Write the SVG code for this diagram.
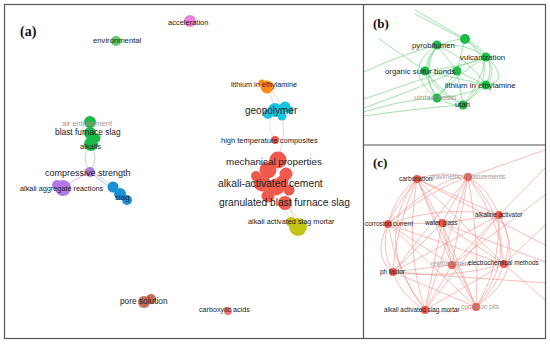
<svg xmlns="http://www.w3.org/2000/svg" width="550" height="344" viewBox="0 0 550 344">
<style>
text{font-family:"Liberation Sans",Arial,sans-serif;fill:#222}
.g{fill:#9a9a9a}
.pl{font-family:"Liberation Serif","Times New Roman",serif;font-weight:bold;fill:#111}
.lb{fill:none;stroke:#5fd070;stroke-width:0.8;stroke-opacity:0.75}
.lc{fill:none;stroke:#f08a80;stroke-width:0.8;stroke-opacity:0.7}
.la{fill:none;stroke-width:1;stroke-opacity:0.6}
.frame{fill:none;stroke:#555;stroke-width:1.2}
</style>
<defs>
<clipPath id="cb"><rect x="364" y="5" width="181" height="140"/></clipPath>
<clipPath id="cc"><rect x="364" y="145" width="181" height="194"/></clipPath>
</defs>
<rect width="550" height="344" fill="#fff"/>

<!-- connectors -->
<g id="connectors">
 <g id="conn-a">
  <path class="la" stroke="#9ab8a0" d="M90,145 Q80,158 90,172"/>
  <path class="la" stroke="#9ab8a0" d="M90,145 Q100,158 90,172"/>
  <path class="la" stroke="#b8c8b8" d="M90,122 Q86,134 90,145"/>
  <path class="la" stroke="#c090e8" stroke-width="3.5" d="M90,172 Q76,178 63,188"/>
  <path class="la" stroke="#a090e0" stroke-width="3" d="M90,172 Q102,182 114,190"/>
  <path class="la" stroke="#a0b0e8" d="M90,172 Q104,177 120,195"/>
  <path class="la" stroke="#c0c8d8" d="M267,87 Q272,98 275,110"/>
  <path class="la" stroke="#d8c8b0" d="M270,87 Q276,96 282,108"/>
  <path class="la" stroke="#c8d0d8" d="M275,110 Q264,125 275,140"/>
  <path class="la" stroke="#f0b0b0" d="M280,112 Q288,128 278,160"/>
  <path class="la" stroke="#f0b0a0" d="M280,195 Q292,212 298,226"/>
  <path class="la" stroke="#f0c0a0" d="M285,203 Q296,214 300,224"/>
  <path class="la" stroke="#f0c8a0" d="M272,198 Q290,215 294,226"/>
 </g>
 <g id="conn-b" clip-path="url(#cb)">
  <path class="lb" d="M415,10 L465,39"/>
  <path class="lb" d="M415,14 L465,40"/>
  <path class="lb" d="M378,38 L425,71"/>
  <path class="lb" d="M364,72 Q400,55 437,45"/>
  <path class="lb" d="M364,99 Q420,80 486,57"/>
  <path class="lb" d="M364,112 Q400,100 437,98"/>
  <path class="lb" d="M364,116 Q420,108 463,105"/>
  <path class="lb" d="M364,108 Q410,92 457,71"/>
  <path class="lb" d="M437,45 Q420,75 437,98"/>
  <path class="lb" d="M437,45 Q410,80 463,105"/>
  <path class="lb" d="M465,39 Q505,70 463,105"/>
  <path class="lb" d="M465,39 Q430,40 425,71"/>
  <path class="lb" d="M465,39 Q500,55 486,85"/>
  <path class="lb" d="M437,45 Q465,42 486,57"/>
  <path class="lb" d="M437,45 L457,71"/>
  <path class="lb" d="M437,45 Q470,60 486,85"/>
  <path class="lb" d="M486,57 Q470,65 425,71"/>
  <path class="lb" d="M486,57 Q498,70 486,85"/>
  <path class="lb" d="M486,57 Q480,85 463,105"/>
  <path class="lb" d="M486,57 Q455,75 437,98"/>
  <path class="lb" d="M425,71 L486,85"/>
  <path class="lb" d="M425,71 Q430,88 437,98"/>
  <path class="lb" d="M425,71 Q445,95 463,105"/>
  <path class="lb" d="M457,71 L437,98"/>
  <path class="lb" d="M457,71 L463,105"/>
  <path class="lb" d="M457,71 L486,85"/>
  <path class="lb" d="M486,85 Q470,95 437,98"/>
  <path class="lb" d="M486,85 L463,105"/>
  <path class="lb" d="M437,98 Q450,106 463,105"/>
  <path class="lb" d="M465,39 L457,71"/>
  <path class="lb" d="M437,45 Q400,70 437,98"/>
  <path class="lb" d="M465,39 Q520,80 486,85"/>
 </g>
 <g id="conn-c" clip-path="url(#cc)">
  <path class="lc" d="M417,179 Q442,170 468,177"/>
  <path class="lc" d="M417,179 Q395,195 388,224"/>
  <path class="lc" d="M417,179 L442,223"/>
  <path class="lc" d="M417,179 L499,215"/>
  <path class="lc" d="M417,179 L452,265"/>
  <path class="lc" d="M417,179 L504,264"/>
  <path class="lc" d="M417,179 Q395,230 393,272"/>
  <path class="lc" d="M417,179 Q405,250 425,310"/>
  <path class="lc" d="M417,179 L476,307"/>
  <path class="lc" d="M417,179 L545,245"/>
  <path class="lc" d="M468,177 Q430,190 388,224"/>
  <path class="lc" d="M468,177 L442,223"/>
  <path class="lc" d="M468,177 Q490,190 499,215"/>
  <path class="lc" d="M468,177 L452,265"/>
  <path class="lc" d="M468,177 Q500,220 504,264"/>
  <path class="lc" d="M468,177 L393,272"/>
  <path class="lc" d="M468,177 L425,310"/>
  <path class="lc" d="M468,177 Q480,240 476,307"/>
  <path class="lc" d="M468,177 L545,150"/>
  <path class="lc" d="M388,224 L442,223"/>
  <path class="lc" d="M388,224 Q440,205 499,215"/>
  <path class="lc" d="M388,224 L452,265"/>
  <path class="lc" d="M388,224 L504,264"/>
  <path class="lc" d="M388,224 Q380,250 393,272"/>
  <path class="lc" d="M388,224 Q395,270 425,310"/>
  <path class="lc" d="M388,224 L476,307"/>
  <path class="lc" d="M442,223 L499,215"/>
  <path class="lc" d="M442,223 L452,265"/>
  <path class="lc" d="M442,223 L504,264"/>
  <path class="lc" d="M442,223 L393,272"/>
  <path class="lc" d="M442,223 L425,310"/>
  <path class="lc" d="M442,223 L476,307"/>
  <path class="lc" d="M442,223 L545,262"/>
  <path class="lc" d="M499,215 Q515,240 504,264"/>
  <path class="lc" d="M499,215 L452,265"/>
  <path class="lc" d="M499,215 L393,272"/>
  <path class="lc" d="M499,215 L425,310"/>
  <path class="lc" d="M499,215 Q500,270 476,307"/>
  <path class="lc" d="M499,215 L545,168"/>
  <path class="lc" d="M452,265 L504,264"/>
  <path class="lc" d="M452,265 L393,272"/>
  <path class="lc" d="M452,265 L425,310"/>
  <path class="lc" d="M452,265 L476,307"/>
  <path class="lc" d="M452,265 L545,195"/>
  <path class="lc" d="M504,264 Q450,280 393,272"/>
  <path class="lc" d="M504,264 L425,310"/>
  <path class="lc" d="M504,264 Q495,290 476,307"/>
  <path class="lc" d="M504,264 L545,225"/>
  <path class="lc" d="M393,272 Q400,295 425,310"/>
  <path class="lc" d="M393,272 L476,307"/>
  <path class="lc" d="M393,272 L545,283"/>
  <path class="lc" d="M425,310 Q450,315 476,307"/>
  <path class="lc" d="M417,179 Q370,240 425,310"/>
  <path class="lc" d="M468,177 Q530,240 476,307"/>
  <path class="lc" d="M388,224 Q440,175 468,177"/>
  <path class="lc" d="M504,264 L545,300"/>
  <path class="lc" d="M417,179 Q360,250 393,272"/>
  <path class="lc" d="M499,215 Q530,270 476,307"/>
 </g>
</g>

<!-- panel (a) nodes -->
<g id="acceleration"><circle cx="190" cy="21" r="6" fill="#e884e0"/><text x="168" y="25" font-size="7.5">acceleration</text></g>
<g id="environmental"><circle cx="116" cy="41" r="5" fill="#5ccc6a"/><text x="93" y="43" font-size="7.7">environmental</text></g>
<g id="lithium-a"><circle cx="267" cy="87" r="6.5" fill="#ff8a14"/><circle cx="262" cy="83" r="3.5" fill="#ff8a14"/><text x="231" y="86.5" font-size="7.3">lithium in ethylamine</text></g>
<g id="geopolymer"><circle cx="275" cy="110" r="7" fill="#18c4e0"/><circle cx="285" cy="107" r="5.5" fill="#18c4e0"/><circle cx="268" cy="114" r="5" fill="#18c4e0"/><circle cx="282" cy="116" r="4.5" fill="#18c4e0"/><circle cx="290" cy="110" r="3.5" fill="#18c4e0"/><text x="245" y="113.5" font-size="10">geopolymer</text></g>
<g id="red-cluster" fill="#f05a4c">
 <circle cx="275" cy="140" r="4"/>
 <circle cx="278" cy="160" r="8.5"/><circle cx="268" cy="170" r="8.5"/><circle cx="286" cy="174" r="6.5"/>
 <circle cx="262" cy="183" r="8.5"/><circle cx="276" cy="187" r="8.5"/><circle cx="289" cy="190" r="5.5"/>
 <circle cx="268" cy="196" r="6.5"/><circle cx="285" cy="203" r="7"/><circle cx="282" cy="182" r="6.5"/>
 <circle cx="256" cy="176" r="5"/>
</g>
<g id="hightemp"><text x="221" y="142.5" font-size="7.5">high temperature composites</text></g>
<g id="mechanical"><text x="226" y="164.5" font-size="9.8">mechanical properties</text></g>
<g id="aac"><text x="218" y="186.5" font-size="10.3">alkali-activated cement</text></g>
<g id="gbfs"><text x="219" y="205.5" font-size="10.2">granulated blast furnace slag</text></g>
<g id="aasm-a"><circle cx="298" cy="227" r="9" fill="#c4c414"/><circle cx="291" cy="222" r="5" fill="#c4c414"/><text x="248" y="223.5" font-size="7.3">alkali activated slag mortar</text></g>
<g id="green-cluster" fill="#1db84a"><circle cx="90" cy="122" r="6"/><circle cx="90" cy="133" r="6"/><circle cx="91" cy="144" r="7"/><circle cx="96" cy="138" r="4.5"/></g>
<g id="air"><text x="62" y="125.5" font-size="7.5" class="g">air entrainment</text></g>
<g id="bfs"><text x="55" y="135" font-size="8.4">blast furnace slag</text></g>
<g id="alkalis"><text x="80" y="149" font-size="7.6">alkalis</text></g>
<g id="compressive"><circle cx="90" cy="172" r="5" fill="#b47ae4"/><text x="45" y="176" font-size="9">compressive strength</text></g>
<g id="aar"><circle cx="63" cy="188" r="8" fill="#b47ae4"/><circle cx="57" cy="185" r="5" fill="#b47ae4"/><text x="20" y="190.5" font-size="7.3">alkali aggregate reactions</text></g>
<g id="slag"><circle cx="113" cy="187" r="5.5" fill="#1a90d6"/><circle cx="120" cy="194" r="6" fill="#1a90d6"/><circle cx="127" cy="200" r="5" fill="#1a90d6"/><text x="115" y="200" font-size="8">slag</text></g>
<g id="pore"><circle cx="144" cy="302" r="6" fill="#c46c58"/><circle cx="151" cy="299" r="5" fill="#c46c58"/><text x="120" y="304" font-size="8.3">pore solution</text></g>
<g id="carboxylic"><circle cx="228" cy="311" r="4" fill="#f07a7a"/><text x="199" y="311.5" font-size="7.2">carboxylic acids</text></g>

<!-- panel (b) nodes -->
<g id="b-nodes" fill="#1dbb48">
 <circle cx="465" cy="39" r="5"/><circle cx="437" cy="45" r="4.5"/><circle cx="486" cy="57" r="4.5"/>
 <circle cx="425" cy="71" r="4.5"/><circle cx="457" cy="71" r="4.5"/><circle cx="486" cy="85" r="4.5"/>
 <circle cx="437" cy="98" r="4.5"/><circle cx="463" cy="105" r="4.5"/>
</g>
<g id="pyrobitumen"><text x="412" y="47.8" font-size="7.8">pyrobitumen</text></g>
<g id="vulcanization"><text x="460" y="60" font-size="7.8">vulcanization</text></g>
<g id="osb"><text x="385" y="74" font-size="7.8">organic sulfur bonds</text></g>
<g id="lithium-b"><text x="445" y="88" font-size="7.8">lithium in ethylamine</text></g>
<g id="uintah"><text x="414" y="100" font-size="7.8" class="g">uintah basin</text></g>
<g id="utah"><text x="455" y="107" font-size="7.8">utah</text></g>

<!-- panel (c) nodes -->
<g id="c-nodes" fill="#ec5a4e">
 <circle cx="417" cy="179" r="4"/><circle cx="468" cy="177" r="4"/><circle cx="499" cy="215" r="4"/>
 <circle cx="388" cy="224" r="4"/><circle cx="442" cy="223" r="4"/><circle cx="452" cy="265" r="4"/>
 <circle cx="504" cy="264" r="4"/><circle cx="393" cy="272" r="4"/><circle cx="425" cy="310" r="4"/>
 <circle cx="476" cy="307" r="4"/>
</g>
<g id="carbonation"><text x="399" y="181.3" font-size="6.4">carbonation</text></g>
<g id="gravimetric"><text x="430" y="179.3" font-size="6.4" class="g">gravimetric measurements</text></g>
<g id="alkaline"><text x="475" y="217.3" font-size="6.4">alkaline activator</text></g>
<g id="corrosion-current"><text x="365" y="226.3" font-size="6.4">corrosion current</text></g>
<g id="waterglass"><text x="425" y="225.3" font-size="6.4">water glass</text></g>
<g id="reinforcement"><text x="431" y="266.3" font-size="6.4" class="g">reinforcement</text></g>
<g id="electrochemical"><text x="468" y="265.3" font-size="6.4">electrochemical methods</text></g>
<g id="ph"><text x="380" y="274.3" font-size="6.4">ph factor</text></g>
<g id="aasm-c"><text x="384" y="312.3" font-size="6.4">alkali activated slag mortar</text></g>
<g id="pits"><text x="461" y="309.3" font-size="6.4" class="g">corrosion pits</text></g>

<!-- frames and panel labels -->
<rect class="frame" x="4.5" y="4.5" width="541" height="334"/>
<line x1="363.5" y1="4.5" x2="363.5" y2="338.5" stroke="#555" stroke-width="1.2"/>
<line x1="363.5" y1="145" x2="545.5" y2="145" stroke="#555" stroke-width="1.2"/>
<text class="pl" x="20" y="36" font-size="14">(a)</text>
<text class="pl" x="373" y="28" font-size="13">(b)</text>
<text class="pl" x="373" y="167" font-size="13">(c)</text>
</svg>
